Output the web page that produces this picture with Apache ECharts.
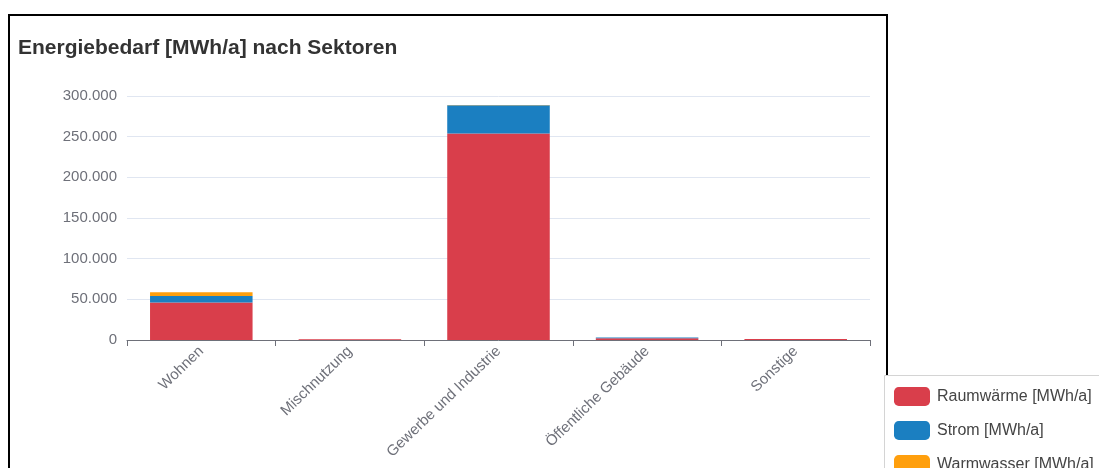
<!DOCTYPE html>
<html>
<head>
<meta charset="utf-8">
<script src="https://cdn.jsdelivr.net/npm/echarts@6/dist/echarts.min.js"></script>
<style>
  html, body { margin: 0; padding: 0; background: #fff; }
  #chart { width: 1099px; height: 468px; }
</style>
</head>
<body>
<div id="chart"></div>
<script>
// Sectors and annual energy demand per carrier (MWh/a)
const categories = ['Wohnen', 'Mischnutzung', 'Gewerbe und Industrie', 'Öffentliche Gebäude', 'Sonstige'];
const raumwaerme = [46000, 900, 254000, 2200, 1300];
const strom = [8200, 50, 34500, 800, 50];
const warmwasser = [4500, 20, 500, 50, 20];
const seriesNames = ['Raumwärme [MWh/a]', 'Strom [MWh/a]', 'Warmwasser [MWh/a]'];
const colors = ['#d93e4b', '#1b7fc1', '#ff9f0d'];

const font = 'Helvetica, "Liberation Sans", Arial, sans-serif';
const fmt = v => String(v).replace(/\B(?=(\d{3})+(?!\d))/g, '.');

const chart = echarts.init(document.getElementById('chart'), null, { renderer: 'canvas' });

const values = [raumwaerme, strom, warmwasser];
const series = seriesNames.map((name, i) => ({
  name: name,
  type: 'bar',
  stack: 'total',
  barCategoryGap: '31%',
  itemStyle: { color: colors[i] },
  emphasis: { disabled: true },
  data: values[i]
}));

chart.setOption({
  animation: false,
  textStyle: { fontFamily: font },
  title: {
    text: 'Energiebedarf [MWh/a] nach Sektoren',
    left: 13,
    top: 33,
    textStyle: { fontSize: 21, fontWeight: 'bold', color: '#333', fontFamily: font }
  },
  graphic: [
    // outer frame around the chart panel
    { type: 'rect', z: -10, shape: { x: 9, y: 15, width: 878, height: 520 },
      style: { fill: null, stroke: '#000', lineWidth: 2 } },
    // legend panel
    { type: 'rect', z: -5, shape: { x: 884.5, y: 375.5, width: 230, height: 120 },
      style: { fill: '#fff', stroke: '#d4d4d4', lineWidth: 1 } }
  ],
  legend: {
    orient: 'vertical',
    left: 889,
    top: 382,
    height: 150,
    itemWidth: 36,
    itemHeight: 19,
    itemGap: 15,
    icon: 'roundRect',
    textStyle: { fontSize: 16, color: '#444', fontFamily: font, padding: [0, 0, 0, 2] },
    data: seriesNames
  },
  grid: { left: 127, right: 229, top: 96, bottom: 128, containLabel: false },
  xAxis: {
    type: 'category',
    data: categories,
    axisLine: { lineStyle: { color: '#6e7079' } },
    axisTick: { show: true, length: 6, lineStyle: { color: '#6e7079' } },
    axisLabel: { rotate: 44, fontSize: 15, color: '#6e7079', margin: 9, interval: 0 }
  },
  yAxis: {
    type: 'value',
    min: 0,
    max: 300000,
    interval: 50000,
    axisLabel: { fontSize: 15, color: '#6e7079', margin: 10, formatter: fmt },
    splitLine: { lineStyle: { color: '#e0e6f1' } }
  },
  series: series
});
</script>
</body>
</html>
